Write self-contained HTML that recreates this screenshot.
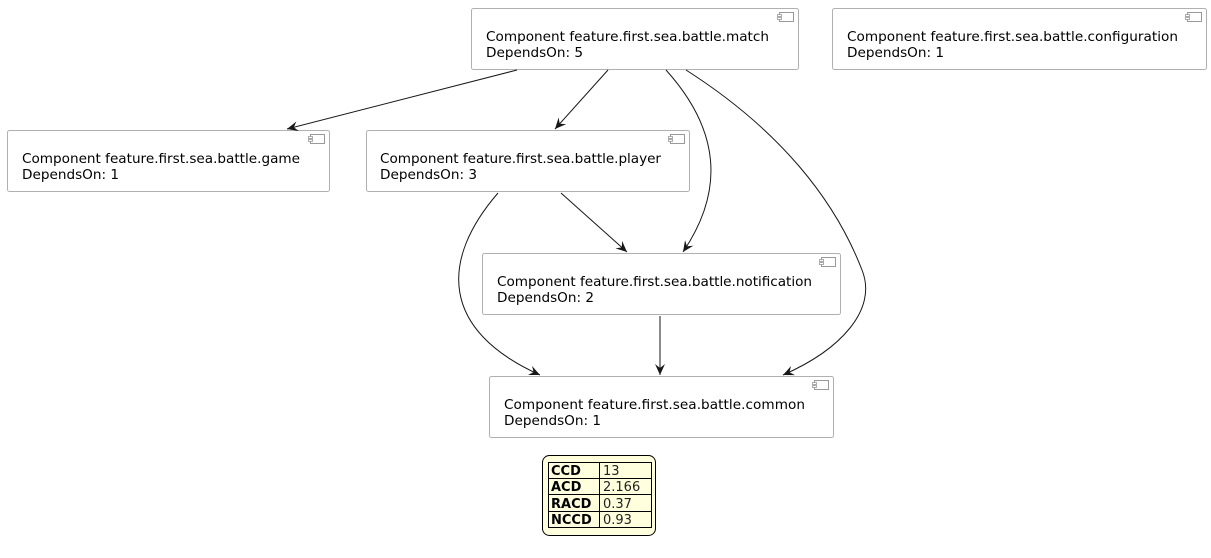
<!DOCTYPE html>
<html><head><style>
body{margin:0;background:#fff;}
svg text{font-family:"DejaVu Sans","Liberation Sans",sans-serif;font-size:13.6px;fill:#000;}
</style></head><body>
<svg width="1211" height="553" xmlns="http://www.w3.org/2000/svg">
<defs>
<marker id="a" markerWidth="12" markerHeight="10" refX="11" refY="5" orient="auto" markerUnits="userSpaceOnUse">
<path d="M0,0 L11,5 L0,10 L4,5 Z" fill="#181818"/>
</marker>
<g id="ic"><rect x="0" y="0" width="14" height="9" fill="#fff" stroke="#999" stroke-width="1"/><rect x="-2" y="2" width="4" height="2" fill="#fff" stroke="#999" stroke-width="0.8"/><rect x="-2" y="5" width="4" height="2" fill="#fff" stroke="#999" stroke-width="0.8"/></g>
</defs>
<g fill="#fff" stroke="#b0b0b0" stroke-width="1">
<rect x="471.5" y="8.5" width="327" height="61" rx="2"/>
<rect x="832.5" y="8.5" width="374" height="61" rx="2"/>
<rect x="7.5" y="130.5" width="322" height="61" rx="2"/>
<rect x="366.5" y="130.5" width="323" height="61" rx="2"/>
<rect x="482.5" y="253.5" width="358" height="61" rx="2"/>
<rect x="489.5" y="376.5" width="344" height="61" rx="2"/>
</g>
<use href="#ic" x="779.5" y="12.5"/>
<use href="#ic" x="1187.5" y="12.5"/>
<use href="#ic" x="310.5" y="134.5"/>
<use href="#ic" x="670.5" y="134.5"/>
<use href="#ic" x="821.5" y="257.5"/>
<use href="#ic" x="814.5" y="380.5"/>
<text x="486" y="41" textLength="283">Component feature.first.sea.battle.match</text><text x="486" y="57">DependsOn: 5</text>
<text x="847" y="41" textLength="331">Component feature.first.sea.battle.configuration</text><text x="847" y="57">DependsOn: 1</text>
<text x="22" y="163" textLength="278">Component feature.first.sea.battle.game</text><text x="22" y="179">DependsOn: 1</text>
<text x="380" y="163" textLength="281">Component feature.first.sea.battle.player</text><text x="380" y="179">DependsOn: 3</text>
<text x="497" y="286" textLength="315">Component feature.first.sea.battle.notification</text><text x="497" y="302">DependsOn: 2</text>
<text x="504" y="409" textLength="301">Component feature.first.sea.battle.common</text><text x="504" y="425">DependsOn: 1</text>
<g fill="none" stroke="#181818" stroke-width="1" marker-end="url(#a)">
<path d="M517,70 L287,129"/>
<path d="M608,70 L555,129"/>
<path d="M666,70 C720,130 725,190 683,252"/>
<path d="M686,70 C780,130 835,200 862,270 C878,310 840,350 783,375"/>
<path d="M561,193 L627,252"/>
<path d="M498,193 C440,260 440,330 540,375"/>
<path d="M660,316 L660,375"/>
</g>
<rect x="542.5" y="455.5" width="113" height="80" rx="7" fill="#ffffdd" stroke="#000"/>
<g fill="none" stroke="#000" stroke-width="1">
<rect x="548.5" y="462.5" width="103" height="65"/>
<line x1="548" y1="478.5" x2="652" y2="478.5"/>
<line x1="548" y1="494.5" x2="652" y2="494.5"/>
<line x1="548" y1="511.5" x2="652" y2="511.5"/>
<line x1="599.5" y1="462" x2="599.5" y2="528"/>
</g>
<g>
<text x="551" y="475" font-weight="bold" style="font-size:13px">CCD</text><text x="603" y="475" style="font-size:13px;fill:#222">13</text>
<text x="551" y="491" font-weight="bold" style="font-size:13px">ACD</text><text x="603" y="491" style="font-size:13px;fill:#222">2.166</text>
<text x="551" y="508" font-weight="bold" style="font-size:13px">RACD</text><text x="603" y="508" style="font-size:13px;fill:#222">0.37</text>
<text x="551" y="524" font-weight="bold" style="font-size:13px">NCCD</text><text x="603" y="524" style="font-size:13px;fill:#222">0.93</text>
</g>
</svg>
</body></html>
